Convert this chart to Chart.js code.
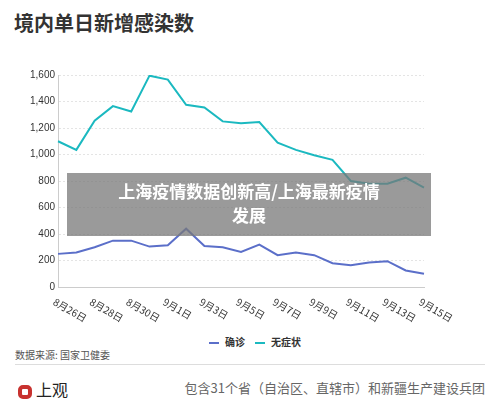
<!DOCTYPE html>
<html><head><meta charset="utf-8">
<script src="https://cdn.jsdelivr.net/npm/chart.js@4"></script>
<style>
body{margin:0;width:500px;height:410px;background:#fff;font-family:"Noto Sans CJK SC","Noto Sans",sans-serif;position:relative;overflow:hidden}
#title{position:absolute;left:14px;top:8px;font-size:20px;font-weight:bold;color:#333}
#wrap{position:absolute;left:27px;top:66px;width:457px;height:265px}
#legend{position:absolute;top:334px;left:0;width:500px;text-align:center;font-size:10px;color:#333;font-weight:bold}
#legend span{display:inline-block;width:10px;height:2px;vertical-align:middle;margin:0 6px 0 10px}
#src{position:absolute;left:15px;top:347px;font-size:10px;color:#555}
#hr{position:absolute;left:15px;right:15px;top:364px;border-top:1px solid #ddd}
#logo{position:absolute;left:18px;top:377px;font-size:16px;color:#222}
#logo b{display:inline-block;width:14px;height:14px;border:4px solid #c8322f;border-radius:5px;box-sizing:border-box;vertical-align:middle;margin-right:4px}
#foot{position:absolute;right:15px;top:378px;font-size:13px;color:#666}
#banner{position:absolute;left:67px;top:173px;width:364px;height:63px;background:rgba(120,120,120,0.75);color:#fff;font-size:17px;font-weight:bold;text-align:center;line-height:24px;padding-top:6px;box-sizing:border-box}
</style></head><body>
<div id="title">境内单日新增感染数</div>
<div id="wrap"><canvas id="c"></canvas></div>
<div id="legend"><span style="background:#5b6fc9"></span>确诊<span style="background:#1bb9c0"></span>无症状</div>
<div id="src">数据来源: 国家卫健委</div>
<div id="hr"></div>
<div id="logo"><b></b>上观</div>
<div id="foot">包含31个省（自治区、直辖市）和新疆生产建设兵团</div>
<div id="banner">上海疫情数据创新高/上海最新疫情<br>发展</div>
<script>
const labels = ['8月26日','8月27日','8月28日','8月29日','8月30日','8月31日','9月1日','9月2日','9月3日','9月4日','9月5日','9月6日','9月7日','9月8日','9月9日','9月10日','9月11日','9月12日','9月13日','9月14日','9月15日']
const confirmed = [250,260,300,350,350,305,315,440,310,300,265,320,240,260,240,180,165,185,195,125,100]
const asymptomatic = [1100,1035,1255,1365,1325,1595,1565,1375,1355,1250,1235,1245,1090,1035,995,960,800,780,780,825,750]

// x labels run down-right from their tick, so draw them ourselves
const slantLabels = {
  id: 'slantLabels',
  afterDraw (chart) {
    const x = chart.scales.x
    const ctx = chart.ctx
    ctx.save()
    ctx.fillStyle = '#333'
    ctx.font = '10px "Noto Sans CJK SC", sans-serif'
    ctx.textBaseline = 'middle'
    labels.forEach((l, i) => {
      if (i % 2 !== 0) return
      ctx.save()
      ctx.translate(x.getPixelForValue(i) - 4, x.bottom + 6)
      ctx.rotate(Math.PI / 6)
      ctx.fillText(l, 0, 0)
      ctx.restore()
    })
    ctx.restore()
  }
}

new Chart(document.getElementById('c'), {
  type: 'line',
  data: {
    labels: labels,
    datasets: [
      { label: '确诊', data: confirmed, borderColor: '#5b6fc9', borderWidth: 2, pointRadius: 0, tension: 0 },
      { label: '无症状', data: asymptomatic, borderColor: '#1bb9c0', borderWidth: 2, pointRadius: 0, tension: 0 }
    ]
  },
  plugins: [slantLabels],
  options: {
    animation: false,
    responsive: true,
    maintainAspectRatio: false,
    layout: { padding: { right: 60, bottom: 36 } },
    plugins: { legend: { display: false }, tooltip: { enabled: false } },
    scales: {
      y: {
        min: 0, max: 1600,
        ticks: { stepSize: 200, color: '#333', font: { size: 10 } },
        grid: { color: '#e4e4e4', drawTicks: false },
        border: { display: true, color: '#ccc', dash: [2, 2] }
      },
      x: {
        offset: false,
        ticks: { display: false },
        grid: { display: false },
        border: { color: '#ccc' }
      }
    }
  }
})
</script>
</body></html>
